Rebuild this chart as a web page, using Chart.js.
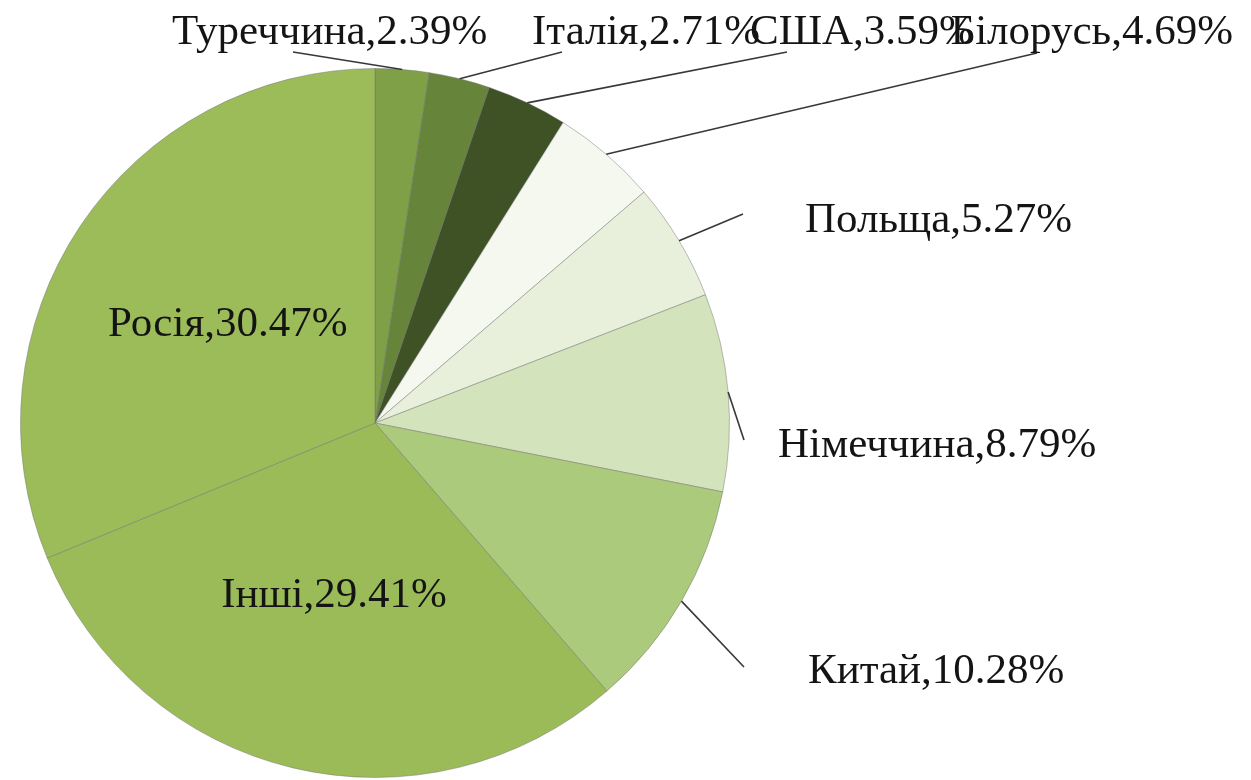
<!DOCTYPE html>
<html>
<head>
<meta charset="utf-8">
<script src="https://cdn.jsdelivr.net/npm/chart.js@4/dist/chart.umd.min.js"></script>
<style>
  html, body { margin: 0; padding: 0; background: #ffffff; }
  #wrap { width: 1251px; height: 780px; position: relative; }
</style>
</head>
<body>
<div id="wrap"><canvas id="c"></canvas></div>
<script>
// ---- data ----
const categories = ['Туреччина', 'Італія', 'США', 'Білорусь', 'Польща', 'Німеччина', 'Китай', 'Інші', 'Росія'];
const shares = [2.39, 2.71, 3.59, 4.69, 5.27, 8.79, 10.28, 29.41, 30.47];
const shareLabels = ['2.39%', '2.71%', '3.59%', '4.69%', '5.27%', '8.79%', '10.28%', '29.41%', '30.47%'];

// ---- styles / layout ----
const sliceColors = ['#80a048', '#67853a', '#3f5226', '#f5f8ef', '#e8efdb', '#d3e3bb', '#acca7c', '#9bbb59', '#9cbc5a'];
const FONT = '43px "Liberation Serif", "Times New Roman", serif';
// label placement: outside labels positioned with leader line; inside labels at fraction of radius
const labelLayout = [
  { x: 172,  y: 44,  align: 'left',  end: [293, 52] },
  { x: 532,  y: 44,  align: 'left',  end: [562, 52] },
  { x: 750,  y: 44,  align: 'left',  end: [787, 52] },
  { x: 1233, y: 44,  align: 'right', end: [1037, 53] },
  { x: 805,  y: 232, align: 'left',  end: [743, 214] },
  { x: 778,  y: 457, align: 'left',  end: [744, 440] },
  { x: 808,  y: 683, align: 'left',  end: [744, 667] },
  { inside: 0.5 },
  { inside: 0.5 }
];

const labelPlugin = {
  id: 'pieLabels',
  afterDatasetsDraw(chart) {
    const ctx = chart.ctx;
    const meta = chart.getDatasetMeta(0);
    ctx.save();
    ctx.font = FONT;
    ctx.fillStyle = '#141414';
    meta.data.forEach((arc, i) => {
      const p = arc.getProps(['x', 'y', 'startAngle', 'endAngle', 'outerRadius'], true);
      const mid = (p.startAngle + p.endAngle) / 2;
      const text = categories[i] + ',' + shareLabels[i];
      const L = labelLayout[i];
      if (L.inside) {
        const r = p.outerRadius * L.inside;
        ctx.textAlign = 'center';
        ctx.textBaseline = 'middle';
        ctx.fillText(text, p.x + Math.cos(mid) * r, p.y + Math.sin(mid) * r);
      } else {
        const sx = p.x + Math.cos(mid) * p.outerRadius;
        const sy = p.y + Math.sin(mid) * p.outerRadius;
        ctx.strokeStyle = '#383838';
        ctx.lineWidth = 1.6;
        ctx.beginPath();
        ctx.moveTo(sx, sy);
        ctx.lineTo(L.end[0], L.end[1]);
        ctx.stroke();
        ctx.textAlign = L.align;
        ctx.textBaseline = 'alphabetic';
        ctx.fillText(text, L.x, L.y);
      }
    });
    ctx.restore();
  }
};

new Chart(document.getElementById('c'), {
  type: 'pie',
  data: {
    labels: categories,
    datasets: [{
      data: shares,
      backgroundColor: sliceColors,
      borderColor: 'rgba(110,110,110,0.45)',
      borderWidth: 1
    }]
  },
  options: {
    responsive: true,
    maintainAspectRatio: false,
    animation: false,
    layout: { padding: { left: 20, top: 68, right: 521, bottom: 2 } },
    plugins: {
      legend: { display: false },
      tooltip: { enabled: false },
      title: { display: false }
    }
  },
  plugins: [labelPlugin]
});
</script>
</body>
</html>
